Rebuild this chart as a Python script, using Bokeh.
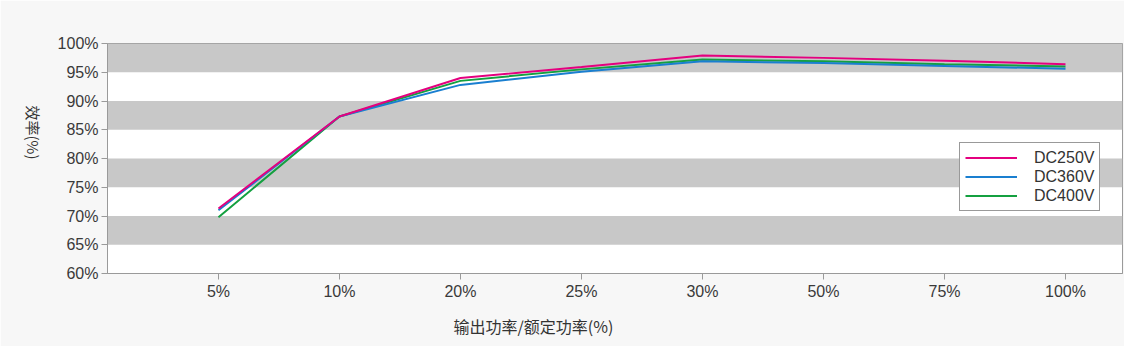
from bokeh.plotting import figure
from bokeh.models import Range1d, FixedTicker, Title, Label, Legend, LegendItem
from bokeh.embed import file_html
from bokeh.resources import INLINE
import math

# ---- data ----
load_labels = ["5%", "10%", "20%", "25%", "30%", "50%", "75%", "100%"]
dc250 = [71.3, 87.3, 94.0, 95.9, 97.9, 97.5, 97.0, 96.4]
dc360 = [71.0, 87.3, 92.8, 95.1, 96.9, 96.6, 96.1, 95.6]
dc400 = [69.8, 87.3, 93.5, 95.5, 97.2, 96.9, 96.4, 96.0]
series_names = ["DC250V", "DC360V", "DC400V"]
y_ticks = [60, 65, 70, 75, 80, 85, 90, 95, 100]
x_title = "输出功率/额定功率(%)"
y_title = "效率(%)"

colors = {"DC250V": "#e4007f", "DC360V": "#1a7fd0", "DC400V": "#14a040"}
series = {"DC250V": dc250, "DC360V": dc360, "DC400V": dc400}

xs = list(range(len(load_labels)))

W, H = 1124, 346
p = figure(width=W, height=H, output_backend="svg", toolbar_location=None,
           x_range=Range1d(-0.917, 7.471), y_range=Range1d(60, 100),
           min_border_left=107, min_border_right=2, min_border_top=43, min_border_bottom=71)
p.background_fill_color = "white"
p.border_fill_color = "#f7f7f7"
p.outline_line_color = "#9a9a9a"
p.outline_line_width = 1

# grid bands
p.xgrid.visible = False
p.ygrid.ticker = FixedTicker(ticks=y_ticks)
p.ygrid.grid_line_color = None
p.ygrid.band_fill_color = "#c8c8c8"
p.ygrid.band_fill_alpha = 1.0

# axes
p.yaxis.ticker = FixedTicker(ticks=y_ticks)
p.yaxis.major_label_overrides = {t: f"{t}%" for t in y_ticks}
p.xaxis.ticker = FixedTicker(ticks=xs)
p.xaxis.major_label_overrides = {i: lab for i, lab in enumerate(load_labels)}
for ax in (p.xaxis[0], p.yaxis[0]):
    ax.axis_line_color = "#9a9a9a"
    ax.major_tick_line_color = "#9a9a9a"
    ax.major_tick_in = 0
    ax.major_tick_out = 6
    ax.minor_tick_line_color = None
    ax.major_label_text_font = "Liberation Sans"
    ax.major_label_text_font_size = "16px"
    ax.major_label_text_color = "#3a3a3a"
    ax.major_label_standoff = 3

# lines
renderers = {}
for name in ["DC400V", "DC360V", "DC250V"]:
    renderers[name] = p.line(xs, series[name], line_color=colors[name], line_width=2)

legend = Legend(items=[LegendItem(label=n, renderers=[renderers[n]]) for n in series_names],
                location=(852, 62))
legend.border_line_color = "#333333"
legend.border_line_width = 1
legend.background_fill_color = "white"
legend.background_fill_alpha = 1.0
legend.padding = 5
legend.spacing = 0
legend.margin = 0
legend.label_height = 19
legend.glyph_height = 19
legend.glyph_width = 52
legend.label_standoff = 17
legend.label_text_font = "Liberation Sans"
legend.label_text_font_size = "16px"
legend.label_text_color = "#333333"
p.add_layout(legend)

# axis titles
xt = Title(text=x_title, align="left", offset=346, standoff=18,
           text_font="Noto Sans CJK SC", text_font_size="16px", text_color="#333333",
           text_font_style="normal")
p.add_layout(xt, "below")
yl = Label(x=0, y=141, x_units="screen", y_units="screen", text=y_title,
           angle=-math.pi / 2,
           text_font="Noto Sans CJK SC", text_font_size="15px", text_color="#333333",
           text_align="center", text_baseline="middle")
p.add_layout(yl, "left")

open("out.html", "w").write(file_html(p, INLINE))
